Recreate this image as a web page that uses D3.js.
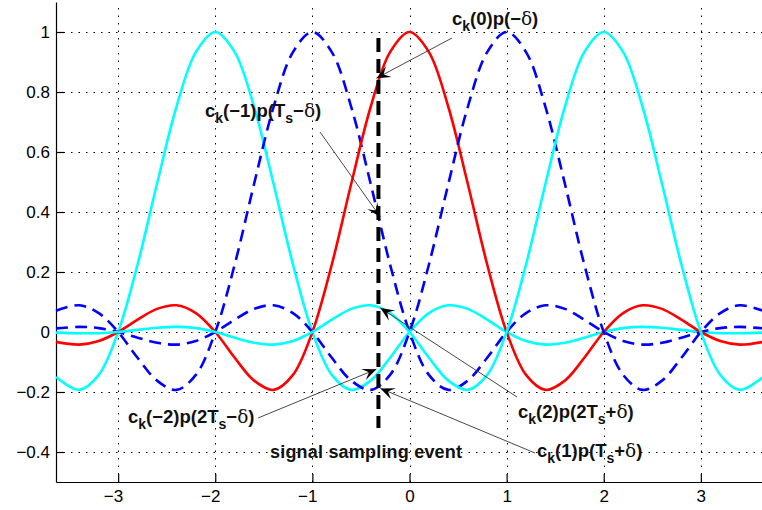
<!DOCTYPE html>
<html>
<head>
<meta charset="utf-8">
<script src="https://cdn.jsdelivr.net/npm/d3@7"></script>
<style>
  body { margin: 0; background: #fff; }
  text { font-family: "Liberation Sans", Arial, Helvetica, sans-serif; }
</style>
</head>
<body>
<svg id="chart"></svg>
<script>
var viewWidth = 762;
var viewHeight = 510;

// sample times (in symbol periods) and the five shifted pulses
var times = [-3.64, -3.4, -3.2, -3.0, -2.8, -2.6, -2.4, -2.2, -2.0, -1.8, -1.6, -1.4, -1.2, -1.0, -0.8, -0.6, -0.4, -0.2,
  0, 0.2, 0.4, 0.6, 0.8, 1.0, 1.2, 1.4, 1.6, 1.8, 2.0, 2.2, 2.4, 2.6, 2.8, 3.0, 3.2, 3.4, 3.64];

var pulseM2 = [-0.150, -0.193, -0.143, 0, 0.225, 0.494, 0.750, 0.933, 1, 0.933, 0.750, 0.494, 0.225, 0, -0.143, -0.193, -0.162, -0.086,
  0, 0.063, 0.089, 0.077, 0.041, 0, -0.030, -0.042, -0.036, -0.019, 0, 0.013, 0.017, 0.014, 0.007, 0, -0.004, -0.004, -0.002];
var pulseM1 = [0.071, 0.089, 0.063, 0, -0.086, -0.162, -0.193, -0.143, 0, 0.225, 0.494, 0.750, 0.933, 1, 0.933, 0.750, 0.494, 0.225,
  0, -0.143, -0.193, -0.162, -0.086, 0, 0.063, 0.089, 0.077, 0.041, 0, -0.030, -0.042, -0.036, -0.019, 0, 0.013, 0.017, 0.012];
var pulse0 = [-0.033, -0.042, -0.030, 0, 0.041, 0.077, 0.089, 0.063, 0, -0.086, -0.162, -0.193, -0.143, 0, 0.225, 0.494, 0.750, 0.933,
  1, 0.933, 0.750, 0.494, 0.225, 0, -0.143, -0.193, -0.162, -0.086, 0, 0.063, 0.089, 0.077, 0.041, 0, -0.030, -0.042, -0.033];
var pulseP1 = [0.012, 0.017, 0.013, 0, -0.019, -0.036, -0.042, -0.030, 0, 0.041, 0.077, 0.089, 0.063, 0, -0.086, -0.162, -0.193, -0.143,
  0, 0.225, 0.494, 0.750, 0.933, 1, 0.933, 0.750, 0.494, 0.225, 0, -0.143, -0.193, -0.162, -0.086, 0, 0.063, 0.089, 0.071];
var pulseP2 = [-0.002, -0.004, -0.004, 0, 0.007, 0.014, 0.017, 0.013, 0, -0.019, -0.036, -0.042, -0.030, 0, 0.041, 0.077, 0.089, 0.063,
  0, -0.086, -0.162, -0.193, -0.143, 0, 0.225, 0.494, 0.750, 0.933, 1, 0.933, 0.750, 0.494, 0.225, 0, -0.143, -0.193, -0.150];

var xTicks = [-3, -2, -1, 0, 1, 2, 3];
var yTicks = [-0.4, -0.2, 0, 0.2, 0.4, 0.6, 0.8, 1];

// sampling event and the values the arrows point at
var sampleTime = -0.32;
var sampleSpan = [0.98, -0.32];
var tipValues = [0.846, 0.383, -0.124, 0.08, -0.188];

var series = [
  {values: pulseM2, color: "#00ffff", dash: null},
  {values: pulseM1, color: "#0000ff", dash: "12,7"},
  {values: pulse0,  color: "#ff0000", dash: null},
  {values: pulseP1, color: "#0000ff", dash: "12,7"},
  {values: pulseP2, color: "#00ffff", dash: null}
];

var svg = d3.select("#chart")
    .attr("width", viewWidth)
    .attr("height", viewHeight);

var x = d3.scaleLinear().domain([-3.64, 3.64]).range([56, 763]);
var y = d3.scaleLinear().domain([-0.5, 1.1]).range([482, 2]);

// dotted grid
var grid = svg.append("g")
    .attr("stroke", "#000")
    .attr("stroke-width", 1)
    .attr("stroke-dasharray", "1.5,6");

grid.selectAll(".vgrid").data(xTicks).enter().append("line")
    .attr("class", "vgrid")
    .attr("x1", function(d) { return Math.round(x(d)) + 0.5; })
    .attr("x2", function(d) { return Math.round(x(d)) + 0.5; })
    .attr("y1", y.range()[0])
    .attr("y2", y.range()[1]);

grid.selectAll(".hgrid").data(yTicks).enter().append("line")
    .attr("class", "hgrid")
    .attr("x1", x.range()[0])
    .attr("x2", x.range()[1])
    .attr("y1", function(d) { return Math.round(y(d)) + 0.5; })
    .attr("y2", function(d) { return Math.round(y(d)) + 0.5; });

// axes, ticks pointing inward like matlab
var fmt = d3.format("~g");
var xAxis = d3.axisBottom(x).tickValues(xTicks).tickFormat(fmt)
    .tickSizeInner(-8).tickSizeOuter(0).tickPadding(8);
var yAxis = d3.axisLeft(y).tickValues(yTicks).tickFormat(fmt)
    .tickSizeInner(-8).tickSizeOuter(0).tickPadding(6);

var gx = svg.append("g")
    .attr("transform", "translate(0," + y.range()[0] + ")")
    .call(xAxis);
gx.selectAll("text")
    .attr("dx", function(d) { return d < 0 ? "-0.3em" : 0; });

var gy = svg.append("g")
    .attr("transform", "translate(" + x.range()[0] + ",0)")
    .call(yAxis);

svg.selectAll(".tick text")
    .attr("fill", "#000")
    .style("font-size", "17px")
    .style("font-family", "'Liberation Sans', Arial, sans-serif");
svg.selectAll(".domain, .tick line")
    .attr("stroke", "#000")
    .attr("stroke-width", 1.2);

// pulses
var line = d3.line()
    .x(function(d, i) { return x(times[i]); })
    .y(function(d) { return y(d); })
    .curve(d3.curveCatmullRom.alpha(0.5));

svg.selectAll(".pulse").data(series).enter().append("path")
    .attr("class", "pulse")
    .attr("d", function(d) { return line(d.values); })
    .attr("fill", "none")
    .attr("stroke", function(d) { return d.color; })
    .attr("stroke-width", 2.6)
    .attr("stroke-dasharray", function(d) { return d.dash; });

// sampling instant
svg.append("line")
    .attr("x1", x(sampleTime)).attr("x2", x(sampleTime))
    .attr("y1", y(sampleSpan[0])).attr("y2", y(sampleSpan[1]))
    .attr("stroke", "#000")
    .attr("stroke-width", 4)
    .attr("stroke-dasharray", "14,7");

// arrow annotations
svg.append("defs").append("marker")
    .attr("id", "head")
    .attr("markerUnits", "userSpaceOnUse")
    .attr("viewBox", "-15 -8 17 16")
    .attr("refX", 0).attr("refY", 0)
    .attr("markerWidth", 17).attr("markerHeight", 16)
    .attr("orient", "auto")
  .append("path")
    .attr("d", "M0,0 L-14,-6 L-8,0 L-14,6 Z")
    .attr("fill", "#000");

var labels = [
  {x: 452, y: 25, from: [452, 38], side: -1,
   parts: [["c"], ["k", "sub"], ["(0)p(\u2212"], ["\u03b4", "sym"], [")"]]},
  {x: 205, y: 117, from: [320, 132], side: 1,
   parts: [["c"], ["k", "sub"], ["(\u22121)p(T"], ["s", "sub"], ["\u2212"], ["\u03b4", "sym"], [")"]]},
  {x: 128, y: 423, from: [258, 418], side: -1,
   parts: [["c"], ["k", "sub"], ["(\u22122)p(2T"], ["s", "sub"], ["\u2212"], ["\u03b4", "sym"], [")"]]},
  {x: 518, y: 418, from: [517, 397], side: 1,
   parts: [["c"], ["k", "sub"], ["(2)p(2T"], ["s", "sub"], ["+"], ["\u03b4", "sym"], [")"]]},
  {x: 537, y: 457, from: [535, 453], side: 1,
   parts: [["c"], ["k", "sub"], ["(1)p(T"], ["s", "sub"], ["+"], ["\u03b4", "sym"], [")"]]}
];

labels.forEach(function(l, i) {
  svg.append("line")
      .attr("x1", l.from[0]).attr("y1", l.from[1])
      .attr("x2", x(sampleTime) + l.side * 2).attr("y2", y(tipValues[i]))
      .attr("stroke", "#333")
      .attr("stroke-width", 0.9)
      .attr("marker-end", "url(#head)");

  var t = svg.append("text")
      .attr("x", l.x).attr("y", l.y)
      .attr("fill", "#111")
      .style("font-size", "18.5px")
      .style("font-weight", "bold");
  var low = false;
  l.parts.forEach(function(p) {
    var ts = t.append("tspan").text(p[0]);
    if (p[1] === "sub") {
      ts.attr("dy", 6).style("font-size", "14px");
      low = true;
    } else {
      if (low) { ts.attr("dy", -6); low = false; }
      if (p[1] === "sym") {
        ts.style("font-family", "'DejaVu Serif', 'Liberation Serif', serif")
          .style("font-weight", "normal");
      }
    }
  });
});

svg.append("text")
    .attr("x", 270).attr("y", 458)
    .attr("fill", "#111")
    .attr("textLength", 192)
    .attr("lengthAdjust", "spacing")
    .style("font-size", "18px")
    .style("font-weight", "bold")
    .text("signal sampling event");
</script>
</body>
</html>
